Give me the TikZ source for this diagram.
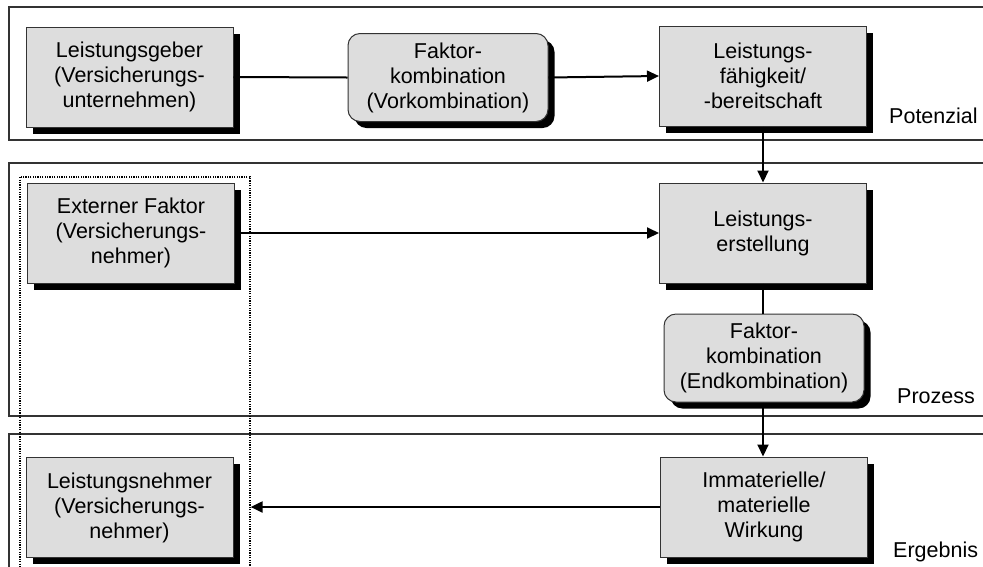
\documentclass[tikz,border=0pt]{standalone}
\usepackage{fontspec}
\setmainfont{Liberation Sans}
\usetikzlibrary{arrows.meta}
\definecolor{boxgray}{HTML}{DDDDDD}
\definecolor{edge}{HTML}{333333}
\tikzset{
  band/.style={draw=edge, line width=1.2pt},
  stepbox/.style={draw=edge, line width=1pt, fill=boxgray, align=center,
    minimum width=207pt, minimum height=100pt, inner sep=0pt,
    font=\fontsize{21.5}{25}\selectfont,
    preaction={fill=black, transform canvas={shift={(6.5pt,-6.5pt)}}}},
  combobox/.style={stepbox, rounded corners=12pt, minimum width=200pt, minimum height=88pt},
  layerlabel/.style={anchor=base west, inner sep=0pt, font=\fontsize{21.5}{25}\selectfont},
  link/.style={line width=2pt},
  flow/.style={link, -{Triangle[length=12pt,width=11pt]}}
}
\begin{document}
\begin{tikzpicture}[x=1pt,y=-1pt]
\useasboundingbox (0,0) rectangle (983,566);
% layers
\draw[band] (9,7) rectangle (995,140);
\draw[band] (9,163) rectangle (995,416);
\draw[band] (9,434) rectangle (995,620);
% dotted frame around the customer side
\node (frame) [draw=black, line width=1.6pt, dash pattern=on 1.2pt off 1.2pt,
  minimum width=230pt, minimum height=430pt, anchor=north west, inner sep=0pt] at (19,176) {};
% Potenzial
\node (geber) [stepbox] at (129.5,77) {Leistungsgeber\\(Versicherungs-\\unternehmen)};
\node (vork) [combobox] at (448,77.5) {Faktor-\\kombination\\(Vorkombination)};
\node (faehig) [stepbox] at (763,76) {Leistungs-\\fähigkeit/\\-bereitschaft};
\node [layerlabel] at (889,123) {Potenzial};
% Prozess
\node (extern) [stepbox] at (131,233) {Externer Faktor\\(Versicherungs-\\nehmer)};
\node (erst) [stepbox] at (763,233) {Leistungs-\\erstellung};
\node (endk) [combobox] at (764,358) {Faktor-\\kombination\\(Endkombination)};
\node [layerlabel] at (897,403) {Prozess};
% Ergebnis
\node (nehmer) [stepbox] at (129.5,507.5) {Leistungsnehmer\\(Versicherungs-\\nehmer)};
\node (wirk) [stepbox] at (764,507) {Immaterielle/\\materielle\\Wirkung};
\node [layerlabel] at (893,557) {Ergebnis};
% connectors
\draw[link] (geber.east) -- (vork.west);
\draw[flow] (vork.east) -- (faehig.west);
\draw[flow] (faehig.south) -- (erst.north);
\draw[flow] (extern.east) -- (erst.west);
\draw[link] (erst.south) -- (endk.north -| erst.south);
\draw[flow] (endk.south -| erst.south) -- (wirk.north -| erst.south);
\draw[flow] (wirk.west) -- (wirk.west -| frame.east);
\end{tikzpicture}
\end{document}
